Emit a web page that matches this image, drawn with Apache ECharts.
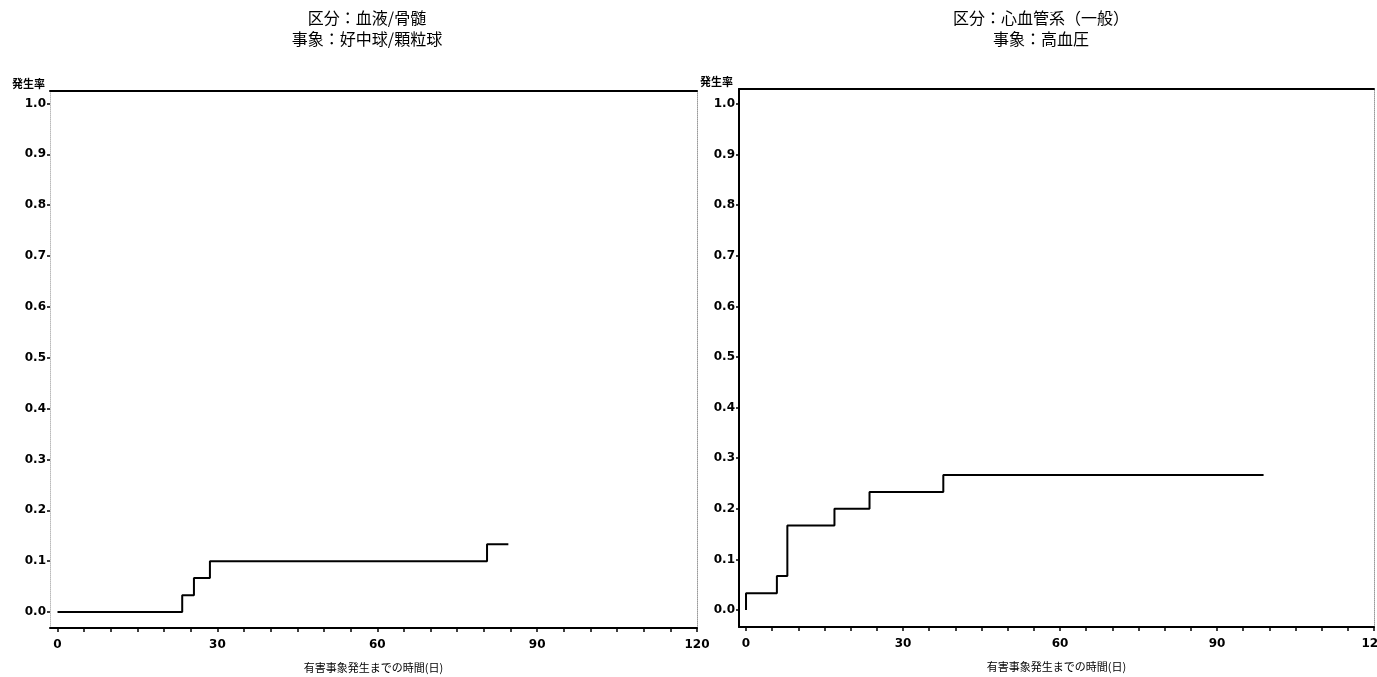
<!DOCTYPE html>
<html><head><meta charset="utf-8">
<script src="https://cdn.jsdelivr.net/npm/echarts@6/dist/echarts.min.js"></script>
<style>html,body{margin:0;padding:0;background:#fff}#c{width:1377px;height:677px}</style>
</head><body><div id="c"></div>
<script>
// Panel titles
const leftTitle = '区分：血液/骨髄\n事象：好中球/顆粒球';
const rightTitle = '区分：心血管系（一般）\n事象：高血圧';
const yName = '発生率';
const xName = '有害事象発生までの時間(日)';
// Tick values
const yTickValues = [0, 0.1, 0.2, 0.3, 0.4, 0.5, 0.6, 0.7, 0.8, 0.9, 1.0];
const xLabelValues = [0, 30, 60, 90, 120];
const xMinorTicks = [0,5,10,15,20,25,30,35,40,45,50,55,60,65,70,75,80,85,90,95,100,105,110,115,120];
// Left panel: cumulative incidence (step at event days)
const leftDays  = [0, 23.4, 25.6, 28.6, 80.6, 84.6];
const leftRates = [0, 0.033, 0.067, 0.100, 0.133, 0.133];
// Right panel
const rightDays  = [0, 0, 5.9, 7.9, 16.9, 23.6, 37.7, 98.9];
const rightRates = [0, 0.033, 0.067, 0.167, 0.200, 0.233, 0.267, 0.267];

const pair = (xs, ys) => xs.map((x, i) => [x, ys[i]]);
const font = 'DejaVu Sans';
const cjk = 'Noto Sans CJK JP';

function bottomX(grid, min, max) {
  return {
    type: 'value', gridIndex: grid, min: min, max: max, position: 'bottom',
    axisLine: { show: true, onZero: false, lineStyle: { color: '#000', width: 2 } },
    axisTick: { show: true, customValues: xMinorTicks, length: 4, lineStyle: { color: '#000', width: 1.5 } },
    axisLabel: { customValues: xLabelValues, color: '#000', fontFamily: font, fontWeight: 'bold', fontSize: 12, margin: 11 },
    splitLine: { show: false },
    name: xName, nameLocation: 'middle', nameGap: 34,
    nameTextStyle: { color: '#000', fontFamily: cjk, fontSize: 11 }
  };
}
function topX(grid, min, max) {
  return {
    type: 'value', gridIndex: grid, min: min, max: max, position: 'top',
    axisLine: { show: true, onZero: false, lineStyle: { color: '#000', width: 2 } },
    axisTick: { show: false }, axisLabel: { show: false }, splitLine: { show: false }
  };
}
function leftY(grid, min, max, lineStyle, namePad) {
  return {
    type: 'value', gridIndex: grid, min: min, max: max, position: 'left',
    axisLine: { show: true, onZero: false, lineStyle: lineStyle },
    axisTick: { show: true, customValues: yTickValues, length: 3, lineStyle: { color: '#000', width: 1.5 } },
    axisLabel: { customValues: yTickValues, formatter: v => v.toFixed(1), color: '#000', fontFamily: font, fontWeight: 'bold', fontSize: 12, margin: 4 },
    splitLine: { show: false },
    name: yName, nameLocation: 'end', nameGap: 2,
    nameTextStyle: { color: '#000', fontFamily: cjk, fontWeight: 'bold', fontSize: 11, align: 'right', padding: [0, namePad, 0, 0] }
  };
}
function rightY(grid, min, max) {
  return {
    type: 'value', gridIndex: grid, min: min, max: max, position: 'right',
    axisLine: { show: true, onZero: false, lineStyle: { color: '#999', width: 1, type: 'dotted' } },
    axisTick: { show: false }, axisLabel: { show: false }, splitLine: { show: false }
  };
}

const chart = echarts.init(document.getElementById('c'), null, { renderer: 'canvas' });
chart.setOption({
  backgroundColor: '#fff',
  animation: false,
  title: [
    { text: leftTitle, left: 362, top: 2, textAlign: 'center',
      textStyle: { fontFamily: cjk, fontSize: 16, fontWeight: 'normal', color: '#000', lineHeight: 21 } },
    { text: rightTitle, left: 1036, top: 2, textAlign: 'center',
      textStyle: { fontFamily: cjk, fontSize: 16, fontWeight: 'normal', color: '#000', lineHeight: 21 } }
  ],
  grid: [
    { left: 50, right: 680, top: 91, bottom: 49, outerBoundsMode: 'none', containLabel: false },
    { left: 739, right: 3, top: 89, bottom: 50, outerBoundsMode: 'none', containLabel: false }
  ],
  xAxis: [
    bottomX(0, -1.41, 120), topX(0, -1.41, 120),
    bottomX(1, -1.34, 120), topX(1, -1.34, 120)
  ],
  yAxis: [
    leftY(0, -0.0315, 1.0246, { color: '#bbb', width: 1, type: 'dotted' }, 5),
    rightY(0, -0.0315, 1.0246),
    leftY(1, -0.0336, 1.0296, { color: '#000', width: 2 }, 6),
    rightY(1, -0.0336, 1.0296)
  ],
  series: [
    { type: 'line', step: 'end', xAxisIndex: 0, yAxisIndex: 0, data: pair(leftDays, leftRates),
      showSymbol: false, symbol: 'none', lineStyle: { color: '#000', width: 2 } },
    { type: 'line', step: 'end', xAxisIndex: 2, yAxisIndex: 2, data: pair(rightDays, rightRates),
      showSymbol: false, symbol: 'none', lineStyle: { color: '#000', width: 2 } }
  ]
});
</script></body></html>
